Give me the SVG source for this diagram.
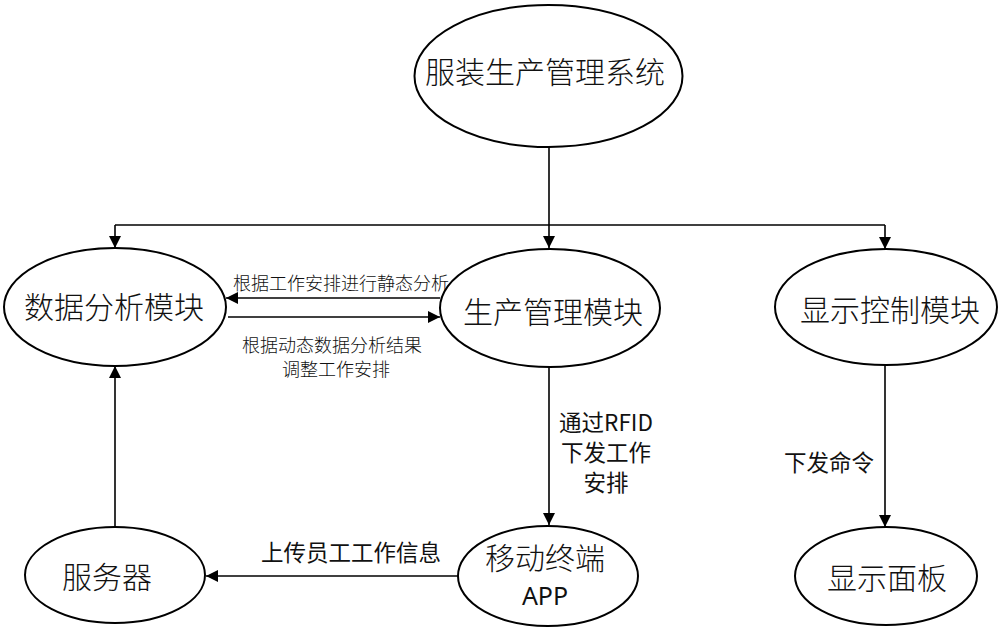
<svg xmlns="http://www.w3.org/2000/svg" width="1000" height="627" viewBox="0 0 1000 627">
<defs>
<marker id="arr" viewBox="0 0 12 12" refX="12" refY="6" markerWidth="12" markerHeight="12" markerUnits="userSpaceOnUse" orient="auto">
<path d="M0,0 L12,6 L0,12 Z" fill="#000"/>
</marker>
<style>
.node ellipse{fill:#fff;stroke:#000;stroke-width:2}
.nt{font-family:"Noto Sans CJK SC","Noto Sans",sans-serif;font-weight:300;font-size:30px;text-anchor:middle;fill:#111}
.sl{font-family:"Noto Sans CJK SC","Noto Sans",sans-serif;font-weight:300;font-size:18px;text-anchor:middle;fill:#111}
.lb{font-family:"Noto Sans CJK SC","Noto Sans",sans-serif;font-size:22.5px;text-anchor:middle;fill:#111}
.app{font-family:"Noto Sans","Noto Sans CJK SC",sans-serif;font-size:25px;text-anchor:middle;fill:#111}
.c{fill:none;stroke:#000;stroke-width:1.6}
.ca{fill:none;stroke:#000;stroke-width:1.6;marker-end:url(#arr)}
</style>
</defs>
<rect width="1000" height="627" fill="#fff"/>
<g id="connectors">
<line class="c" x1="549" y1="147" x2="549" y2="225"/>
<line class="c" x1="115" y1="225" x2="885" y2="225"/>
<line class="ca" x1="115" y1="225" x2="115" y2="248"/>
<line class="ca" x1="549" y1="225" x2="549" y2="248"/>
<line class="ca" x1="885" y1="225" x2="885" y2="249"/>
<line class="ca" x1="440" y1="298" x2="226" y2="298"/>
<line class="ca" x1="228" y1="317" x2="440" y2="317"/>
<line class="ca" x1="549" y1="367" x2="549" y2="525"/>
<line class="ca" x1="885" y1="366" x2="885" y2="527"/>
<line class="ca" x1="458" y1="576" x2="206" y2="576"/>
<line class="ca" x1="115" y1="527" x2="115" y2="366"/>
<text class="sl" x="341" y="290">根据工作安排进行静态分析</text>
<text class="sl" x="332" y="352">根据动态数据分析结果</text>
<text class="sl" x="336" y="376">调整工作安排</text>
<text class="lb" x="606" y="431">通过RFID</text>
<text class="lb" x="606" y="461">下发工作</text>
<text class="lb" x="606" y="491">安排</text>
<text class="lb" x="829" y="471">下发命令</text>
<text class="lb" x="351" y="561">上传员工工作信息</text>
</g>
<g id="n-system" class="node">
<ellipse cx="548.5" cy="76" rx="134" ry="71"/>
<text class="nt" x="545" y="83">服装生产管理系统</text>
</g>
<g id="n-analysis" class="node">
<ellipse cx="115" cy="307" rx="111" ry="59"/>
<text class="nt" x="114" y="318">数据分析模块</text>
</g>
<g id="n-production" class="node">
<ellipse cx="550" cy="308" rx="110" ry="59"/>
<text class="nt" x="553" y="323">生产管理模块</text>
</g>
<g id="n-display-ctrl" class="node">
<ellipse cx="886" cy="307" rx="111" ry="58"/>
<text class="nt" x="890" y="321">显示控制模块</text>
</g>
<g id="n-server" class="node">
<ellipse cx="115" cy="575" rx="90" ry="48"/>
<text class="nt" x="107" y="588">服务器</text>
</g>
<g id="n-mobile" class="node">
<ellipse cx="548" cy="576" rx="90" ry="50"/>
<text class="nt" x="545" y="569">移动终端</text>
<text class="app" x="545" y="605">APP</text>
</g>
<g id="n-panel" class="node">
<ellipse cx="886" cy="576" rx="91" ry="49"/>
<text class="nt" x="887" y="589">显示面板</text>
</g>
</svg>
